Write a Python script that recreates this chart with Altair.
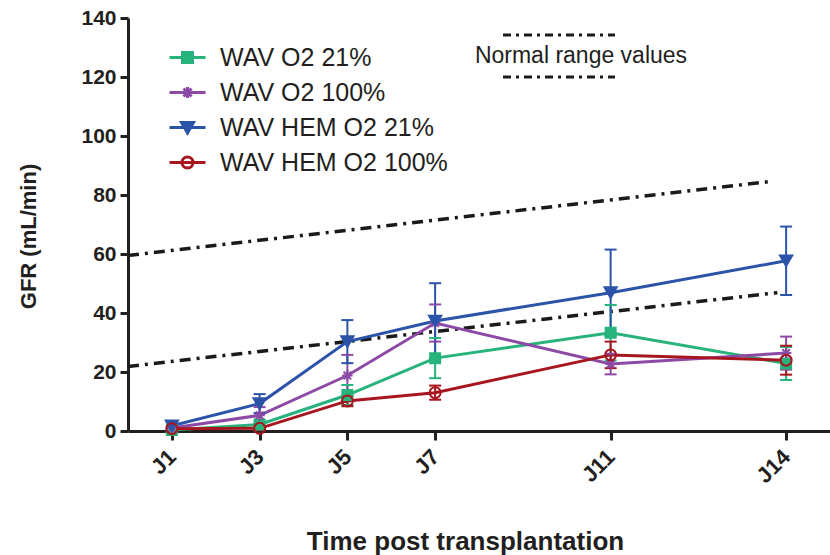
import altair as alt
import pandas as pd

# ---------------- data ----------------
days = [1, 3, 5, 7, 11, 15]
day_labels = ["J1", "J3", "J5", "J7", "J11", "J14"]

series_names = ["WAV O2 21%", "WAV O2 100%", "WAV HEM O2 21%", "WAV HEM O2 100%"]

gfr_o2_21 = [0.3, 2.2, 12.2, 24.7, 33.3, 22.9]
err_o2_21 = [0.6, 1.0, 3.4, 6.8, 9.4, 5.6]
gfr_o2_100 = [1.0, 5.3, 18.8, 36.6, 22.7, 26.4]
err_o2_100 = [0.6, 2.8, 7.0, 6.3, 3.5, 5.6]
gfr_hem_21 = [1.8, 9.3, 30.3, 37.3, 46.9, 57.7]
err_hem_21 = [1.2, 3.2, 7.3, 12.8, 14.6, 11.6]
gfr_hem_100 = [0.8, 0.9, 10.2, 13.0, 25.8, 24.0]
err_hem_100 = [0.5, 0.6, 1.8, 2.4, 4.5, 4.9]

normal_upper_x = [0, 14.6]
normal_upper_y = [59.5, 84.5]
normal_lower_x = [0, 14.8]
normal_lower_y = [21.9, 46.9]

key_label = ["Normal range values"]

# ---------------- styles ----------------
colors = ["#27b37b", "#8c4aa6", "#2b53a8", "#a7161f"]
fills = ["#27b37b", "#8c4aa6", "#2b53a8", "transparent"]
plot_shapes = [
    "square",
    "M0,-1.1V1.1M-1.1,0H1.1M-0.8,-0.8L0.8,0.8M-0.8,0.8L0.8,-0.8",
    "triangle-down",
    "circle",
]
plot_sizes = [100, 90, 150, 120]
legend_shapes = [
    "M-3.6,0H3.6M-1,-1H1V1H-1Z",
    "M-3.6,0H3.6M0,-1.1V1.1M-0.8,-0.8L0.8,0.8M-0.8,0.8L0.8,-0.8",
    "M-3.6,0H3.6M-1.2,-1H1.2L0,1.1Z",
    "M-3.6,0H3.6M1.1,0A1.1,1.1,0,1,0,-1.1,0A1.1,1.1,0,1,0,1.1,0Z",
]
FONT = "Liberation Sans"
TXT = "#231f20"

# ---------------- tables ----------------
values = [gfr_o2_21, gfr_o2_100, gfr_hem_21, gfr_hem_100]
errors = [err_o2_21, err_o2_100, err_hem_21, err_hem_100]
rows = []
for name, vals, errs in zip(series_names, values, errors):
    for d, v, e in zip(days, vals, errs):
        rows.append({"series": name, "day": d, "gfr": v, "lo": v - e, "hi": v + e})
df = pd.DataFrame(rows)

norm_rows = []
for nm, xs, ys in [("upper", normal_upper_x, normal_upper_y), ("lower", normal_lower_x, normal_lower_y)]:
    for xv, yv in zip(xs, ys):
        norm_rows.append({"bound": nm, "day": xv, "gfr": yv})
norm_df = pd.DataFrame(norm_rows)
key_df = pd.DataFrame({"label": key_label})

# ---------------- scales / axes ----------------
label_expr = "[" + ",".join("'%s'" % l for l in day_labels) + "][indexof([" + ",".join(str(d) for d in days) + "], datum.value)]"

x_axis = alt.Axis(
    values=days, labelExpr=label_expr, title="Time post transplantation", grid=False,
    domainWidth=3, domainColor=TXT, tickWidth=3, tickSize=9, tickColor=TXT,
    labelAngle=-45, labelAlign="right", labelBaseline="middle", labelPadding=13,
    labelFont=FONT, labelFontSize=22, labelFontWeight="bold", labelColor=TXT,
    titleFont=FONT, titleFontSize=26, titleFontWeight="bold", titleColor=TXT,
    titleX=337, titleY=118, titleAlign="center", titleBaseline="alphabetic",
)
y_axis = alt.Axis(
    values=list(range(0, 141, 20)), title="GFR (mL/min)", grid=False,
    domainWidth=3, domainColor=TXT, tickWidth=3, tickSize=8, tickColor=TXT,
    labelFont=FONT, labelFontSize=21, labelFontWeight="bold", labelColor=TXT, labelPadding=4,
    titleFont=FONT, titleFontSize=22, titleFontWeight="bold", titleColor=TXT,
    titleX=-100, titleY=218, titleAngle=270, titleAlign="center", titleBaseline="middle",
)
x_scale = alt.Scale(domain=[0, 16], nice=False, zero=False)
y_scale = alt.Scale(domain=[0, 140], nice=False)

stroke_scale = alt.Scale(domain=series_names, range=colors)
fill_scale = alt.Scale(domain=series_names, range=fills)
shape_scale = alt.Scale(domain=series_names, range=legend_shapes)

legend = alt.Legend(
    title=None, orient="none", legendX=47, legendY=27, padding=0,
    labelFont=FONT, labelFontSize=25, labelColor=TXT, labelLimit=400, labelOffset=20,
    symbolSize=100, symbolStrokeWidth=3, rowPadding=9,
)

X = alt.X("day:Q", scale=x_scale, axis=x_axis)


def Y(field):
    return alt.Y(field + ":Q", scale=y_scale, axis=y_axis)


# invisible layer that only carries the legend (line + marker symbols); first so its legend wins
legend_layer = alt.Chart(df).mark_point(size=0, strokeWidth=3, opacity=1).encode(
    x=X, y=Y("gfr"),
    stroke=alt.Stroke("series:N", scale=stroke_scale, legend=legend),
    fill=alt.Fill("series:N", scale=fill_scale, legend=legend),
    shape=alt.Shape("series:N", scale=shape_scale, legend=legend),
)

# normal range lines
normal = alt.Chart(norm_df).mark_line(
    color="#1a1a1a", strokeWidth=3.5, strokeDash=[11, 6, 3, 6]
).encode(x=X, y=Y("gfr"), detail="bound:N")

lines = alt.Chart(df).mark_line(strokeWidth=3).encode(
    x=X, y=Y("gfr"), stroke=alt.Stroke("series:N", scale=stroke_scale, legend=None)
)

err_rule = alt.Chart(df).mark_rule(strokeWidth=2).encode(
    x=X, y=Y("lo"), y2="hi:Q", stroke=alt.Stroke("series:N", scale=stroke_scale, legend=None)
)
cap_lo = alt.Chart(df).mark_tick(orient="horizontal", size=12, thickness=2, opacity=1).encode(
    x=X, y=Y("lo"), color=alt.Color("series:N", scale=stroke_scale, legend=None)
)
cap_hi = alt.Chart(df).mark_tick(orient="horizontal", size=12, thickness=2, opacity=1).encode(
    x=X, y=Y("hi"), color=alt.Color("series:N", scale=stroke_scale, legend=None)
)

point_layers = []
for name, shp, sz in zip(series_names, plot_shapes, plot_sizes):
    point_layers.append(
        alt.Chart(df).transform_filter(alt.datum.series == name).mark_point(
            shape=shp, size=sz, strokeWidth=2, opacity=1
        ).encode(
            x=X, y=Y("gfr"),
            stroke=alt.Stroke("series:N", scale=stroke_scale, legend=None),
            fill=alt.Fill("series:N", scale=fill_scale, legend=None),
        )
    )

# "Normal range values" key
key_top = alt.Chart(key_df).mark_rule(color="#1a1a1a", strokeWidth=3, strokeDash=[8, 5, 3, 5]).encode(
    x=alt.value(375), x2=alt.value(487), y=alt.value(17)
)
key_bot = alt.Chart(key_df).mark_rule(color="#1a1a1a", strokeWidth=3, strokeDash=[8, 5, 3, 5]).encode(
    x=alt.value(375), x2=alt.value(487), y=alt.value(59)
)
key_text = alt.Chart(key_df).mark_text(
    font=FONT, fontSize=23, color=TXT, align="center", baseline="middle"
).encode(x=alt.value(453), y=alt.value(38), text="label:N")

chart = alt.layer(
    legend_layer, normal, lines, err_rule, cap_lo, cap_hi, *point_layers, key_top, key_bot, key_text
).properties(
    width=702, height=413,
    autosize=alt.AutoSizeParams(type="none"),
    padding={"left": 128, "top": 18, "right": 0, "bottom": 124},
    background="white",
).configure_view(stroke=None)

chart.save("out.html", embed_options={"renderer": "svg", "actions": False})
